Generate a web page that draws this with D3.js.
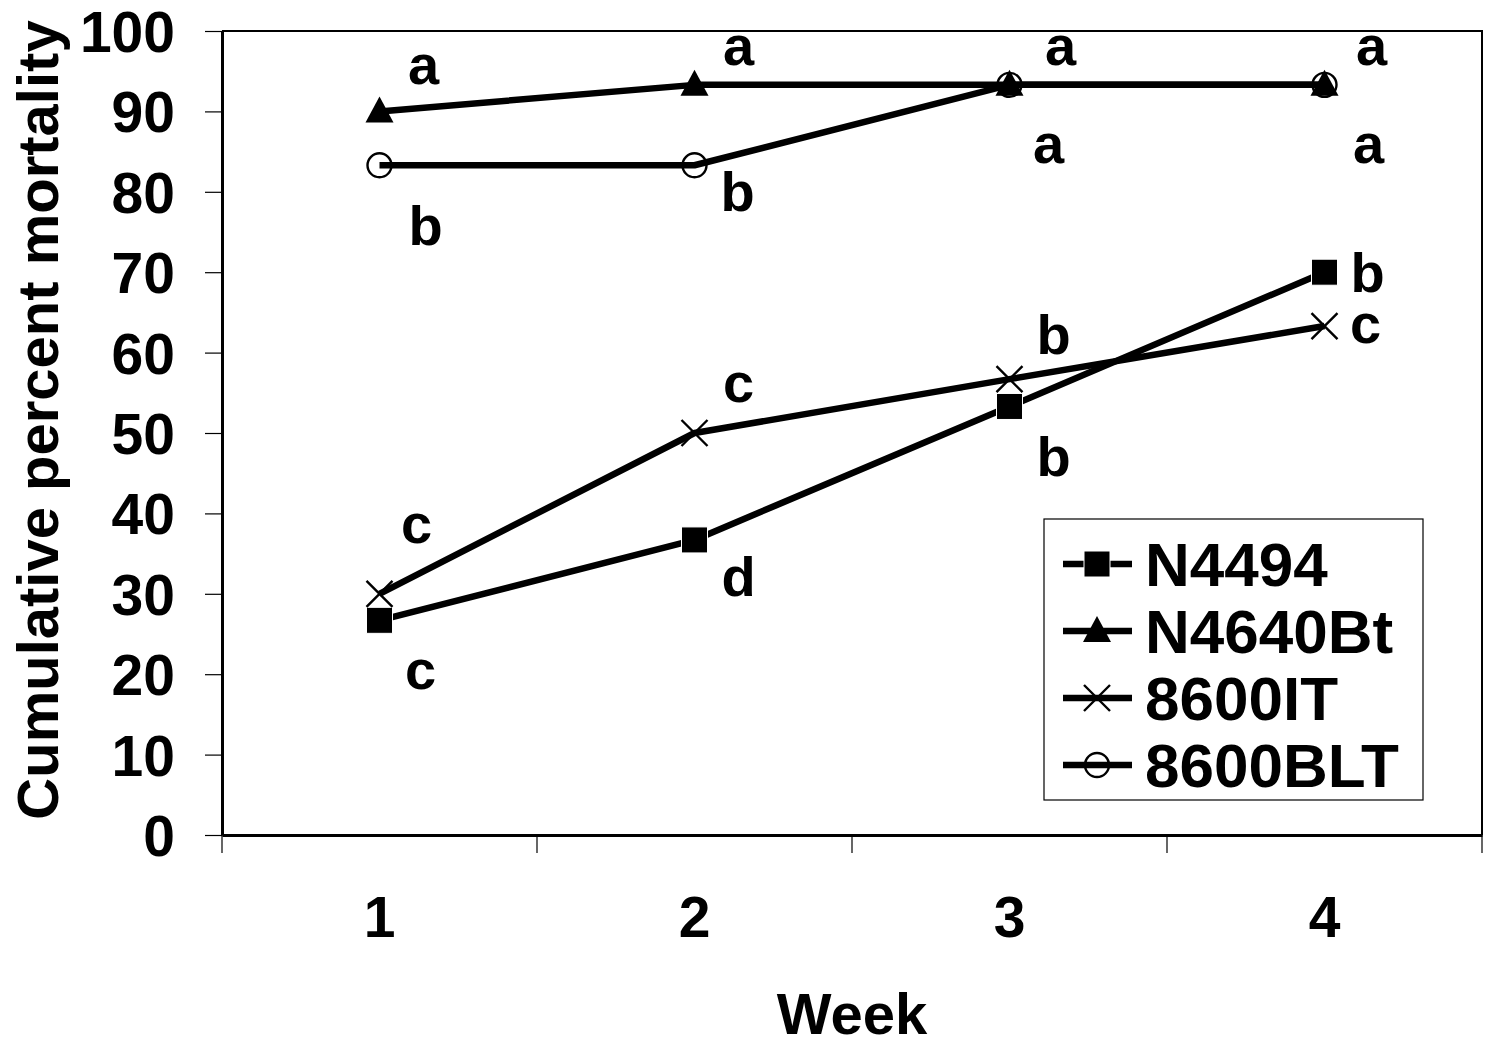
<html>
<head>
<script src="https://d3js.org/d3.v7.min.js"></script>
<style>
  body { margin: 0; background: #fff; }
  text { font-family: "Liberation Sans", Arial, sans-serif; font-weight: bold; fill: #000; }
</style>
</head>
<body>
<script>
// data
var weeks = [1, 2, 3, 4];
var seriesNames = ["N4494", "N4640Bt", "8600IT", "8600BLT"];
var markers = ["square", "triangle", "cross", "circle"];
var n4494 = [26.7, 36.7, 53.3, 70];
var n4640bt = [90, 93.3, 93.3, 93.3];
var it8600 = [30, 50, 56.7, 63.3];
var blt8600 = [83.3, 83.3, 93.3, 93.3];
var yTicks = [0, 10, 20, 30, 40, 50, 60, 70, 80, 90, 100];

// significance letters per series, one per week
var letters = [
  ["c", "d", "b", "b"],
  ["a", "a", "a", "a"],
  ["c", "c", "b", "c"],
  ["b", "b", "a", "a"]
];

var values = [n4494, n4640bt, it8600, blt8600];

// label nudges (layout only)
var letterNudge = [
  [[41, 54], [44, 36], [44, 49], [43, 0]],
  [[44, -42], [44, -34], [51, -34], [47, -34]],
  [[37, -65], [44, -46], [44, -45], [41, 2]],
  [[46, 60], [43, 26], [39, 64], [44, 64]]
];

var W = 1486, H = 1047;
var mLeft = 222, mRight = 1482, mTop = 31, mBottom = 835;

var svg = d3.select("body").append("svg")
  .attr("width", W).attr("height", H);

var x = d3.scaleBand().domain(weeks).range([mLeft, mRight]);
var y = d3.scaleLinear().domain([0, 100]).range([mBottom, mTop]);
var cx = function(w) { return x(w) + x.bandwidth() / 2; };

// plot frame top + right
svg.append("path")
  .attr("d", "M" + mLeft + "," + mTop + "H" + mRight + "V" + mBottom)
  .attr("fill", "none").attr("stroke", "#000").attr("stroke-width", 2);

// y axis
var yAxis = svg.append("g")
  .attr("transform", "translate(" + mLeft + ",0)")
  .call(d3.axisLeft(y).tickValues(yTicks).tickSize(17).tickPadding(30).tickSizeOuter(0));
yAxis.select(".domain").attr("stroke-width", 3);
yAxis.selectAll(".tick line").attr("stroke-width", 1.2);
yAxis.selectAll(".tick text")
  .style("font-size", "57px").attr("dy", "0.36em").attr("fill", "#000");

// x axis
var xAxis = svg.append("g")
  .attr("transform", "translate(0," + mBottom + ")")
  .call(d3.axisBottom(x).tickSize(0).tickPadding(62));
xAxis.select(".domain").attr("stroke-width", 3);
xAxis.selectAll(".tick text").style("font-size", "57px").attr("fill", "#000");
// category boundary ticks
var bounds = weeks.map(function(w) { return x(w); }).concat([mRight]);
xAxis.selectAll(".bound").data(bounds).enter().append("line")
  .attr("x1", function(d) { return d; }).attr("x2", function(d) { return d; })
  .attr("y1", 0).attr("y2", 18)
  .attr("stroke", "#000").attr("stroke-width", 1.2);

// axis titles
svg.append("text")
  .attr("transform", "translate(58,420) rotate(-90)")
  .attr("text-anchor", "middle")
  .style("font-size", "58px")
  .text("Cumulative percent mortality");
svg.append("text")
  .attr("x", 852).attr("y", 1034)
  .attr("text-anchor", "middle")
  .style("font-size", "58px")
  .text("Week");

function drawMarker(g, type, px, py) {
  if (type === "square") {
    g.append("rect").attr("x", px - 13).attr("y", py - 13)
      .attr("width", 26).attr("height", 26)
      .attr("fill", "#000").attr("stroke", "#fff").attr("stroke-width", 1);
  } else if (type === "triangle") {
    g.append("path")
      .attr("d", "M" + px + "," + (py - 15) + "L" + (px + 14) + "," + (py + 11) + "L" + (px - 14) + "," + (py + 11) + "Z")
      .attr("fill", "#000");
  } else if (type === "cross") {
    g.append("path")
      .attr("d", "M" + (px - 13) + "," + (py - 13) + "L" + (px + 13) + "," + (py + 13) +
        "M" + (px + 13) + "," + (py - 13) + "L" + (px - 13) + "," + (py + 13))
      .attr("stroke", "#000").attr("stroke-width", 2.4).attr("fill", "none");
  } else {
    g.append("circle").attr("cx", px).attr("cy", py).attr("r", 12)
      .attr("fill", "none").attr("stroke", "#000").attr("stroke-width", 2.4);
  }
}

var line = d3.line()
  .x(function(d, i) { return cx(weeks[i]); })
  .y(function(d) { return y(d); });

var plot = svg.append("g");
values.forEach(function(vals, s) {
  plot.append("path").datum(vals)
    .attr("d", line)
    .attr("fill", "none").attr("stroke", "#000")
    .attr("stroke-width", 6.5).attr("stroke-linejoin", "round");
});
values.forEach(function(vals, s) {
  vals.forEach(function(v, i) {
    drawMarker(plot, markers[s], cx(weeks[i]), y(v));
  });
});

// letters
values.forEach(function(vals, s) {
  vals.forEach(function(v, i) {
    var l = letters[s][i];
    svg.append("text")
      .attr("x", cx(weeks[i]) + letterNudge[s][i][0])
      .attr("y", y(v) + letterNudge[s][i][1])
      .attr("dy", (l === "b" || l === "d") ? "0.36em" : "0.26em")
      .attr("text-anchor", "middle")
      .style("font-size", "56px")
      .text(l);
  });
});

// legend
var lg = svg.append("g");
lg.append("rect")
  .attr("x", 1044).attr("y", 519).attr("width", 379).attr("height", 281)
  .attr("fill", "#fff").attr("stroke", "#000").attr("stroke-width", 1.2);
seriesNames.forEach(function(name, s) {
  var ly = 564 + s * 67;
  lg.append("line")
    .attr("x1", 1063).attr("x2", 1132).attr("y1", ly).attr("y2", ly)
    .attr("stroke", "#000").attr("stroke-width", 6.5);
  drawMarker(lg, markers[s], 1097, ly);
  lg.append("text")
    .attr("x", 1145).attr("y", ly).attr("dy", "0.36em")
    .style("font-size", "62px")
    .text(name);
});
</script>
</body>
</html>
